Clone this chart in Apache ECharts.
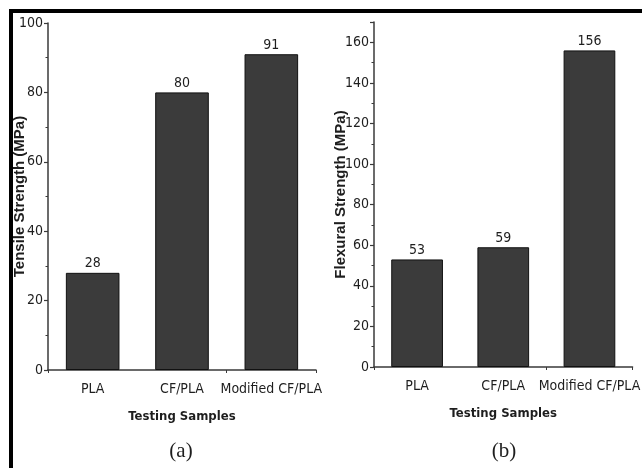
<!DOCTYPE html>
<html>
<head>
<meta charset="utf-8">
<script src="https://cdn.jsdelivr.net/npm/echarts@6/dist/echarts.min.js"></script>
<style>
html,body{margin:0;padding:0;background:#fff;}
#chart{width:642px;height:468px;}
</style>
</head>
<body>
<div id="chart"></div>
<script>
var categories = ['PLA', 'CF/PLA', 'Modified CF/PLA'];
var tensileValues = [28, 80, 91];
var flexuralValues = [53, 59, 156];
var panelLabels = ['(a)', '(b)'];
var yNames = ['Tensile Strength (MPa)', 'Flexural Strength (MPa)'];
var xName = 'Testing Samples';

var narrow = '"Liberation Sans Narrow", "Arial Narrow", "DejaVu Sans Condensed", sans-serif';
var txt = '#1e1e1e';
var axisColor = '#3a3a3a';

var chart = echarts.init(document.getElementById('chart'), null, {renderer: 'canvas'});

function mainX(gi, nameGap) {
  return {
    type: 'category', gridIndex: gi, data: categories,
    axisLine: {lineStyle: {color: axisColor, width: 1.5}},
    axisTick: {alignWithLabel: true, length: 5, lineStyle: {color: axisColor, width: 1.2}},
    axisLabel: {color: txt, fontFamily: narrow, fontSize: 14, margin: 12, interval: 0},
    name: xName, nameLocation: 'middle', nameGap: nameGap, nameMoveOverlap: false,
    nameTextStyle: {color: txt, fontFamily: narrow, fontWeight: 'bold', fontSize: 13}
  };
}
function boundaryX(gi) {
  return {
    type: 'category', gridIndex: gi, data: categories, position: 'bottom',
    axisLine: {show: false},
    axisTick: {show: true, alignWithLabel: false, length: 3, lineStyle: {color: axisColor, width: 1}},
    axisLabel: {show: false}
  };
}
function yAx(gi, max, name, nameGap) {
  return {
    type: 'value', gridIndex: gi, min: 0, max: max, interval: 20,
    axisLine: {show: true, lineStyle: {color: axisColor, width: 1.5}},
    axisTick: {show: true, length: 4, lineStyle: {color: axisColor, width: 1.2}},
    minorTick: {show: true, splitNumber: 2, length: 2.5, lineStyle: {color: axisColor, width: 1}},
    splitLine: {show: false},
    axisLabel: {color: txt, fontFamily: narrow, fontSize: 14, margin: 5,
      formatter: function (v) { return (v % 20 === 0) ? String(v) : ''; }},
    name: name, nameLocation: 'middle', nameGap: nameGap, nameMoveOverlap: false,
    nameTextStyle: {color: txt, fontFamily: '"Liberation Sans", Arial, sans-serif', fontWeight: 'bold', fontSize: 15}
  };
}
function barSeries(xi, yi, values) {
  return {
    type: 'bar', xAxisIndex: xi, yAxisIndex: yi, data: values, barWidth: '60%',
    itemStyle: {color: '#3b3b3b', borderColor: '#111', borderWidth: 1},
    label: {show: true, position: 'top', distance: 2, color: txt, fontFamily: narrow, fontSize: 14},
    silent: true
  };
}

var option = {
  backgroundColor: '#fff',
  animation: false,
  grid: [
    {left: 48, top: 23, width: 268, height: 347},
    {left: 374, top: 22, width: 266, height: 345}
  ],
  xAxis: [mainX(0, 40), mainX(1, 40), boundaryX(0), boundaryX(1)],
  yAxis: [yAx(0, 100, yNames[0], 21), yAx(1, 170, yNames[1], 26)],
  series: [
    barSeries(0, 0, tensileValues),
    barSeries(1, 1, flexuralValues)
  ],
  graphic: [
    {type: 'rect', shape: {x: 9, y: 9, width: 633, height: 4}, style: {fill: '#000'}, silent: true},
    {type: 'rect', shape: {x: 9, y: 9, width: 4, height: 459}, style: {fill: '#000'}, silent: true},
    {type: 'text', x: 181, y: 451, silent: true,
      style: {text: panelLabels[0], align: 'center', verticalAlign: 'middle', textAlign: 'center', textVerticalAlign: 'middle',
        font: '21px "Liberation Serif", "DejaVu Serif", serif', fill: txt}},
    {type: 'text', x: 504, y: 451, silent: true,
      style: {text: panelLabels[1], align: 'center', verticalAlign: 'middle', textAlign: 'center', textVerticalAlign: 'middle',
        font: '21px "Liberation Serif", "DejaVu Serif", serif', fill: txt}}
  ]
};
chart.setOption(option);
</script>
</body>
</html>
